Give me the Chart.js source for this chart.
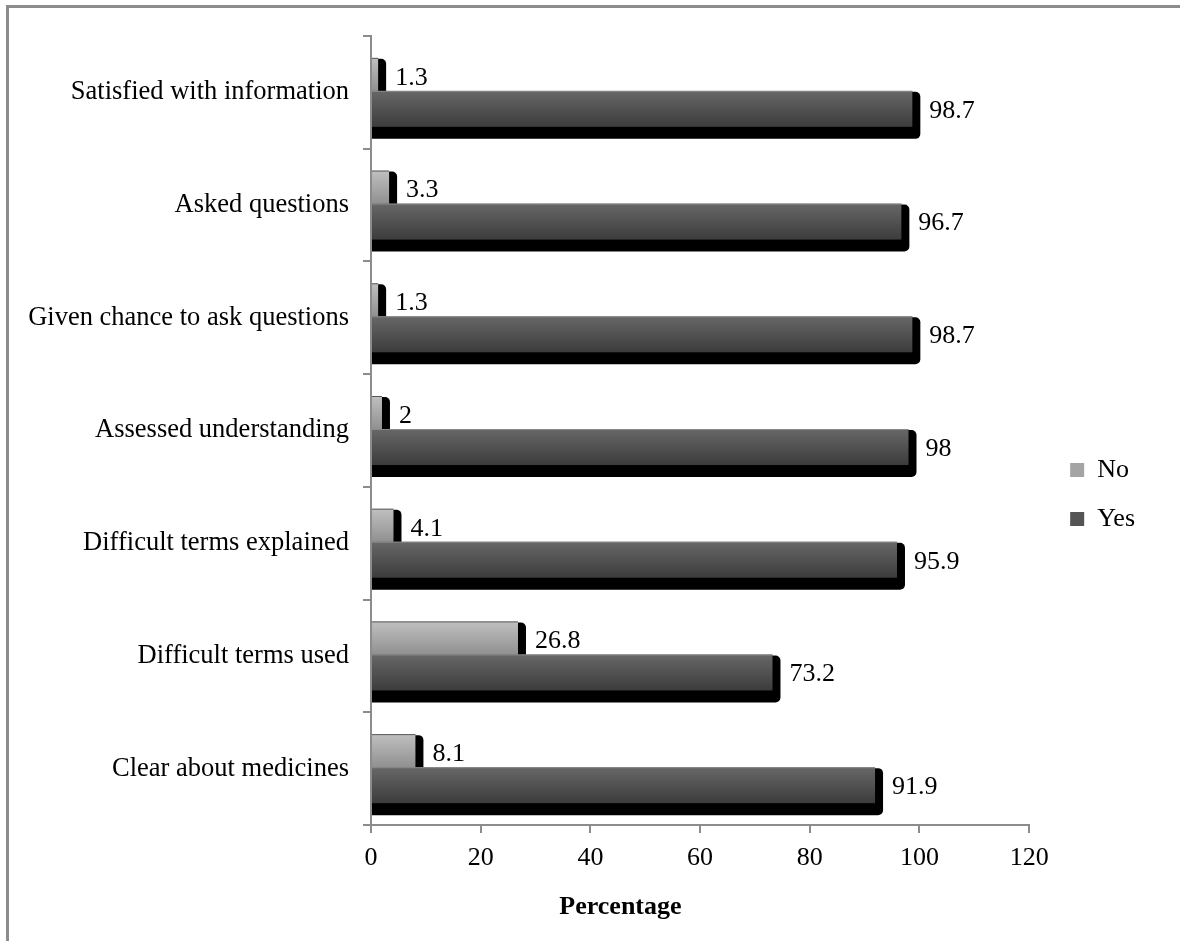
<!DOCTYPE html>
<html>
<head>
<meta charset="utf-8">
<title>Patient information</title>
<script src="https://cdn.jsdelivr.net/npm/chart.js@4.4.1/dist/chart.umd.min.js"></script>
<style>
  html, body { margin: 0; padding: 0; background: #fff; overflow: hidden; }
  #frame {
    position: absolute; left: 6px; top: 5px; width: 1220px; height: 980px;
    border: 3px solid #8c8c8c; box-sizing: border-box;
  }
  #wrap { position: absolute; left: 0; top: 0; width: 1180px; height: 941px; }
</style>
</head>
<body>
<div id="frame"></div>
<div id="wrap"><canvas id="chart"></canvas></div>
<script>
const categories = [
  'Satisfied with information',
  'Asked questions',
  'Given chance to ask questions',
  'Assessed understanding',
  'Difficult terms explained',
  'Difficult terms used',
  'Clear about medicines'
];
const noValues = [1.3, 3.3, 1.3, 2, 4.1, 26.8, 8.1];
const yesValues = [98.7, 96.7, 98.7, 98, 95.9, 73.2, 91.9];
const xTickValues = [0, 20, 40, 60, 80, 100, 120];

// top -> bottom gradient of each bar face, by dataset index
const faceStops = [
  ['#c0c0c0', '#8c8c8c'],
  ['#676767', '#3c3c3c']
];
const faceEdge = ['#5a5a5a', '#8a8a8a'];

const serif = '"Liberation Serif", "Times New Roman", serif';

// 3D-ish bars: black extruded side first, then a gradient front face.
// Drawn in dataset order so "Yes" overlaps the "No" bar above it.
const barFaces = {
  id: 'barFaces',
  beforeDatasetsDraw(chart) {
    const ctx = chart.ctx;
    ctx.save();
    chart.data.datasets.forEach((ds, i) => {
      const stops = faceStops[i];
      chart.getDatasetMeta(i).data.forEach(bar => {
        const { x, y, base, height } = bar.getProps(['x', 'y', 'base', 'height'], true);
        const top = y - height / 2;
        ctx.fillStyle = '#000';
        ctx.beginPath();
        ctx.roundRect(base, top + 1, x - base + 8, height + 11, [0, 5, 5, 0]);
        ctx.fill();

        const g = ctx.createLinearGradient(0, top, 0, top + height);
        g.addColorStop(0, stops[0]);
        g.addColorStop(1, stops[1]);
        ctx.fillStyle = g;
        ctx.fillRect(base, top, x - base, height);
        ctx.strokeStyle = faceEdge[i];
        ctx.lineWidth = 1;
        ctx.beginPath();
        ctx.moveTo(base, top + 0.5);
        ctx.lineTo(x, top + 0.5);
        ctx.stroke();
      });
    });
    ctx.restore();
  },
  beforeDatasetDraw() {
    return false;
  }
};

// numbers to the right of each bar
const valueLabels = {
  id: 'valueLabels',
  afterDatasetsDraw(chart) {
    const ctx = chart.ctx;
    ctx.save();
    ctx.font = '26px ' + serif;
    ctx.fillStyle = '#000';
    ctx.textAlign = 'left';
    ctx.textBaseline = 'middle';
    chart.data.datasets.forEach((ds, i) => {
      chart.getDatasetMeta(i).data.forEach((bar, j) => {
        ctx.fillText(String(ds.data[j]), bar.x + 17, bar.y + 2);
      });
    });
    ctx.restore();
  }
};

// push the legend a little away from the plot
const legendNudge = {
  id: 'legendNudge',
  afterLayout(chart) {
    const lg = chart.legend;
    lg.left += 18; lg.right += 18;
    lg.top += 6; lg.bottom += 6;
  }
};

// axis title sits a bit left of centre under the x axis
const xTitle = {
  id: 'xTitle',
  afterDraw(chart) {
    const { ctx, chartArea } = chart;
    ctx.save();
    ctx.font = 'bold 26px ' + serif;
    ctx.fillStyle = '#000';
    ctx.textAlign = 'center';
    ctx.textBaseline = 'middle';
    ctx.fillText('Percentage', chartArea.left + (chartArea.right - chartArea.left) * 0.379, 907);
    ctx.restore();
  }
};

new Chart(document.getElementById('chart'), {
  type: 'bar',
  data: {
    labels: categories,
    datasets: [
      { label: 'No', data: noValues, backgroundColor: '#a4a4a4', borderWidth: 0 },
      { label: 'Yes', data: yesValues, backgroundColor: '#545454', borderWidth: 0 }
    ]
  },
  options: {
    indexAxis: 'y',
    responsive: true,
    maintainAspectRatio: false,
    animation: false,
    categoryPercentage: 0.586,
    barPercentage: 1.09,
    layout: { padding: { top: 36, left: 0, right: 53, bottom: 0 } },
    scales: {
      x: {
        min: 0,
        max: 120,
        afterBuildTicks(scale) { scale.ticks = xTickValues.map(v => ({ value: v })); },
        afterFit(scale) { scale.height = 116; },
        grid: { drawOnChartArea: false, drawTicks: true, tickLength: 8, color: '#8c8c8c', lineWidth: 2 },
        border: { color: '#8c8c8c', width: 2 },
        ticks: { color: '#000', font: { family: serif, size: 26 }, padding: 10 }
      },
      y: {
        afterFit(scale) { scale.width = 371; },
        grid: { drawOnChartArea: false, drawTicks: true, tickLength: 8, color: '#8c8c8c', lineWidth: 2, offset: true },
        border: { color: '#8c8c8c', width: 2 },
        ticks: { color: '#000', font: { family: serif, size: 26.5 }, padding: 14 }
      }
    },
    plugins: {
      legend: {
        position: 'right',
        labels: {
          boxWidth: 14,
          boxHeight: 14,
          padding: 23,
          color: '#000',
          font: { family: serif, size: 26 }
        }
      },
      tooltip: { enabled: false }
    }
  },
  plugins: [barFaces, valueLabels, legendNudge, xTitle]
});
</script>
</body>
</html>
